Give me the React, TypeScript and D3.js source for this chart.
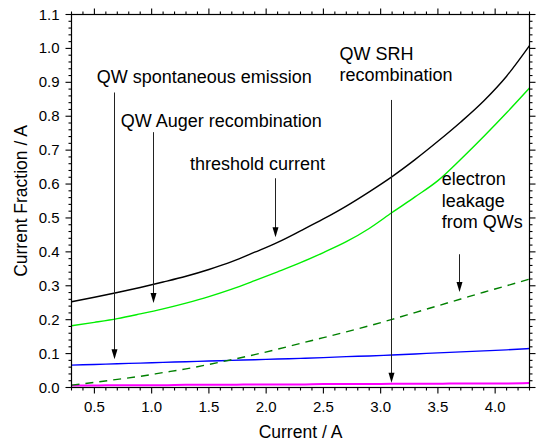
import React from "react";
import * as d3 from "d3";

// current axis (A) and the current fractions (A)
const current = [0.3, 0.5, 0.7, 0.9, 1.1, 1.3, 1.5, 1.7, 1.9, 2.1, 2.3, 2.5, 2.7, 2.9, 3.1, 3.3, 3.5, 3.7, 3.9, 4.1, 4.3];
const thresholdCurrent = [0.253, 0.266, 0.28, 0.295, 0.311, 0.328, 0.348, 0.371, 0.399, 0.428, 0.462, 0.497, 0.535, 0.577, 0.622, 0.672, 0.726, 0.783, 0.845, 0.918, 1.008];
const augerRecomb = [0.182, 0.192, 0.203, 0.217, 0.232, 0.249, 0.268, 0.29, 0.315, 0.341, 0.368, 0.398, 0.43, 0.469, 0.516, 0.562, 0.61, 0.673, 0.74, 0.81, 0.883];
const electronLeakage = [0.007, 0.015, 0.024, 0.033, 0.044, 0.055, 0.068, 0.082, 0.097, 0.113, 0.13, 0.147, 0.164, 0.182, 0.201, 0.221, 0.241, 0.261, 0.281, 0.3, 0.32];
const spontEmission = [0.066, 0.068, 0.07, 0.072, 0.074, 0.076, 0.078, 0.08, 0.082, 0.084, 0.086, 0.088, 0.091, 0.093, 0.096, 0.099, 0.102, 0.105, 0.108, 0.111, 0.115];
const srhRecomb = [0.006, 0.006, 0.007, 0.007, 0.007, 0.008, 0.008, 0.008, 0.009, 0.009, 0.009, 0.01, 0.01, 0.01, 0.011, 0.011, 0.011, 0.012, 0.012, 0.012, 0.013];

const xMajor = [0.5, 1.0, 1.5, 2.0, 2.5, 3.0, 3.5, 4.0];
const yMajor = [0, 0.1, 0.2, 0.3, 0.4, 0.5, 0.6, 0.7, 0.8, 0.9, 1.0, 1.1];

const xTitle = "Current / A";
const yTitle = "Current Fraction / A";

// callouts: text lines, text anchor point and arrow, all in data units
const callouts = [
  { lines: ["QW spontaneous emission"], tx: 0.52, ty: 0.898, ax: 0.67, top: 0.87, tip: 0.083 },
  { lines: ["QW Auger recombination"], tx: 0.73, ty: 0.768, ax: 1.01, top: 0.753, tip: 0.249 },
  { lines: ["threshold current"], tx: 1.335, ty: 0.641, ax: 2.08, top: 0.617, tip: 0.443 },
  { lines: ["QW SRH", "recombination"], tx: 2.64, ty: 0.966, ax: 3.09, top: 0.848, tip: 0.014 },
  { lines: ["electron", "leakage", "from QWs"], tx: 3.533, ty: 0.597, ax: 3.68, top: 0.393, tip: 0.282 },
];

const font = "'Liberation Sans', Arial, sans-serif";

export default function App() {
  const width = 540;
  const height = 444;
  const x = d3.scaleLinear().domain([0.3, 4.3]).range([71.5, 529.5]);
  const y = d3.scaleLinear().domain([0, 1.1]).range([387.5, 14.5]);
  const fmt = d3.format(".1f");

  const xMinor = d3.range(3, 44).map((v) => v / 10).filter((v) => !xMajor.some((m) => Math.abs(m - v) < 1e-6));
  const yMinor = d3.range(0, 56).map((v) => v / 50).filter((v) => !yMajor.some((m) => Math.abs(m - v) < 1e-6));

  const line = (vals: number[]) =>
    d3.line<number>()
      .x((_, i) => x(current[i]))
      .y((d) => y(d))
      .curve(d3.curveMonotoneX)(vals) as string;

  const [x0, x1] = x.range();
  const [y0, y1] = y.range();

  return (
    <svg width={width} height={height} style={{ position: "absolute", left: 0, top: 0, background: "#fff" }} fontFamily={font}>
      <rect width={width} height={height} fill="#fff" />

      {/* curves */}
      <path d={line(srhRecomb)} fill="none" stroke="#ff00ff" strokeWidth={2} />
      <path d={line(spontEmission)} fill="none" stroke="#0000ff" strokeWidth={1.4} />
      <path d={line(electronLeakage)} fill="none" stroke="#008000" strokeWidth={1.4} strokeDasharray="8,6" />
      <path d={line(augerRecomb)} fill="none" stroke="#00ee00" strokeWidth={1.4} />
      <path d={line(thresholdCurrent)} fill="none" stroke="#000" strokeWidth={1.4} />

      {/* frame and ticks */}
      <rect x={x0} y={y1} width={x1 - x0} height={y0 - y1} fill="none" stroke="#000" strokeWidth={1.2} />
      <g stroke="#000" strokeWidth={1.1}>
        {xMajor.map((v) => (
          <g key={"xM" + v}>
            <line x1={x(v)} x2={x(v)} y1={y0} y2={y0 + 6} />
            <line x1={x(v)} x2={x(v)} y1={y1} y2={y1 - 6} />
          </g>
        ))}
        {xMinor.map((v) => (
          <g key={"xm" + v}>
            <line x1={x(v)} x2={x(v)} y1={y0} y2={y0 + 3} />
            <line x1={x(v)} x2={x(v)} y1={y1} y2={y1 - 3} />
          </g>
        ))}
        {yMajor.map((v) => (
          <g key={"yM" + v}>
            <line x1={x0} x2={x0 - 6} y1={y(v)} y2={y(v)} />
            <line x1={x1} x2={x1 + 6} y1={y(v)} y2={y(v)} />
          </g>
        ))}
        {yMinor.map((v) => (
          <g key={"ym" + v}>
            <line x1={x0} x2={x0 - 3} y1={y(v)} y2={y(v)} />
            <line x1={x1} x2={x1 + 3} y1={y(v)} y2={y(v)} />
          </g>
        ))}
      </g>

      {/* tick labels */}
      <g fontSize={15} fill="#000">
        {xMajor.map((v) => (
          <text key={"xl" + v} x={x(v)} y={y0 + 24} textAnchor="middle">{fmt(v)}</text>
        ))}
        {yMajor.map((v) => (
          <text key={"yl" + v} x={x0 - 12} y={y(v) + 5} textAnchor="end">{fmt(v)}</text>
        ))}
      </g>

      {/* axis titles */}
      <text x={(x0 + x1) / 2} y={438} fontSize={17.5} textAnchor="middle">{xTitle}</text>
      <text transform={`translate(26.5,${(y0 + y1) / 2}) rotate(-90)`} fontSize={17.5} textAnchor="middle">{yTitle}</text>

      {/* callouts */}
      {callouts.map((c, i) => {
        const ax = Math.round(x(c.ax)) + 0.5;
        const tipY = y(c.tip);
        return (
          <g key={"c" + i}>
            <text x={x(c.tx)} y={y(c.ty)} fontSize={18} fill="#000">
              {c.lines.map((t, j) => (
                <tspan key={j} x={x(c.tx)} dy={j === 0 ? 0 : 21.5}>{t}</tspan>
              ))}
            </text>
            <line x1={ax} x2={ax} y1={y(c.top)} y2={tipY - 8} stroke="#222" strokeWidth={1} />
            <path d={`M${ax},${tipY} L${ax - 3},${tipY - 10} L${ax + 3},${tipY - 10} Z`} fill="#000" />
          </g>
        );
      })}
    </svg>
  );
}
